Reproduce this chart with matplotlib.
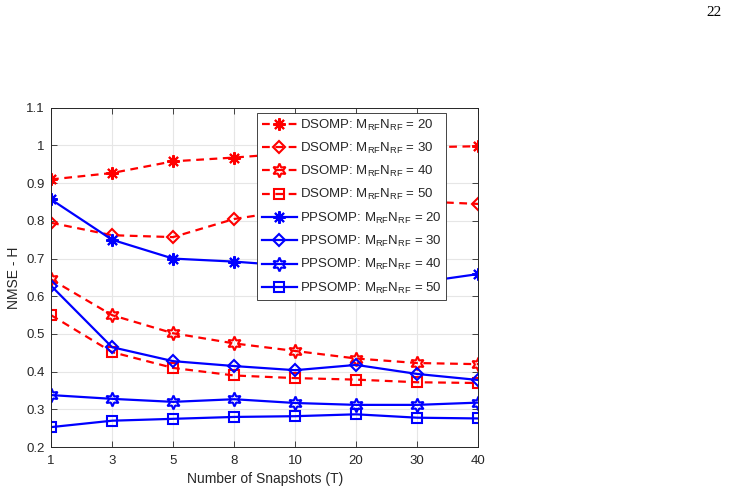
import matplotlib
matplotlib.use("Agg")
import matplotlib.pyplot as plt
import numpy as np

plt.rcParams['font.family'] = ['Liberation Sans', 'DejaVu Sans']
plt.rcParams['mathtext.fontset'] = 'custom'
plt.rcParams['mathtext.rm'] = 'Liberation Sans'
plt.rcParams['mathtext.it'] = 'Liberation Sans'

snapshots = ['1', '3', '5', '8', '10', '20', '30', '40']
dsomp_20 = [0.910, 0.927, 0.958, 0.968, 0.980, 0.990, 0.995, 0.998]
dsomp_30 = [0.795, 0.762, 0.757, 0.805, 0.830, 0.848, 0.852, 0.845]
dsomp_40 = [0.645, 0.550, 0.502, 0.475, 0.455, 0.435, 0.423, 0.420]
dsomp_50 = [0.550, 0.452, 0.410, 0.390, 0.383, 0.379, 0.372, 0.370]
ppsomp_20 = [0.857, 0.750, 0.700, 0.692, 0.680, 0.668, 0.636, 0.659]
ppsomp_30 = [0.628, 0.465, 0.428, 0.415, 0.404, 0.418, 0.394, 0.378]
ppsomp_40 = [0.338, 0.328, 0.320, 0.327, 0.317, 0.312, 0.312, 0.318]
ppsomp_50 = [0.253, 0.270, 0.275, 0.280, 0.282, 0.287, 0.278, 0.276]
sizes = [20, 30, 40, 50]

fig = plt.figure(figsize=(7.29, 4.99), dpi=100)
ax = fig.add_axes([0.070, 0.104, 0.586, 0.680])

x = np.arange(1, len(snapshots) + 1)
hexagram = (6, 1, 0)
asterisk = (8, 2, 0)
markers = [asterisk, 'D', hexagram, 's']
msizes = [9, 6.5, 10, 7]

for data, m, ms, n in zip([dsomp_20, dsomp_30, dsomp_40, dsomp_50], markers, msizes, sizes):
    ax.plot(x, data, color='#ff0000', linestyle=(0, (3.5, 2.5)), linewidth=1.6,
            marker=m, markersize=ms, markerfacecolor='none',
            markeredgewidth=1.5,
            label=r'DSOMP: M$_{\mathrm{RF}}$N$_{\mathrm{RF}}$ = %d' % n)
for data, m, ms, n in zip([ppsomp_20, ppsomp_30, ppsomp_40, ppsomp_50], markers, msizes, sizes):
    ax.plot(x, data, color='#0000ff', linestyle='-', linewidth=1.6,
            marker=m, markersize=ms, markerfacecolor='none',
            markeredgewidth=1.5,
            label=r'PPSOMP: M$_{\mathrm{RF}}$N$_{\mathrm{RF}}$ = %d' % n)

ax.set_xlim(1, 8)
ax.set_ylim(0.2, 1.1)
ax.set_xticks(x)
ax.set_xticklabels(snapshots)
yt = np.round(np.arange(0.2, 1.11, 0.1), 1)
ax.set_yticks(yt)
ax.set_yticklabels(['0.2', '0.3', '0.4', '0.5', '0.6', '0.7', '0.8', '0.9', '1', '1.1'])
ax.grid(True, color='#e6e6e6', linewidth=0.8)
ax.set_axisbelow(True)
ax.tick_params(direction='in', top=True, right=True, labelsize=9.5, colors='#262626',
               length=4, width=0.6)
ax.tick_params(axis='x', pad=6)
ax.tick_params(axis='y', pad=4.5)
for s in ax.spines.values():
    s.set_color('#262626')
    s.set_linewidth(0.7)

ax.set_xlabel('Number of Snapshots (T)', fontsize=10, color='#262626', labelpad=3)
ax.set_ylabel('NMSE - H', fontsize=10, color='#262626', labelpad=4)

leg = ax.legend(loc='upper left', bbox_to_anchor=(0.482, 0.985), fontsize=9.5,
                frameon=True, fancybox=False, framealpha=1, edgecolor='#262626',
                handlelength=2.7, handletextpad=0.2, labelspacing=0.62,
                borderpad=0.35, borderaxespad=0)
leg.get_frame().set_linewidth(0.6)
for t in leg.get_texts():
    t.set_color('#262626')

fig.text(0.99, 0.975, '22', family='Liberation Serif', fontsize=11, ha='right', va='center')

fig.savefig('out.png', dpi=100)
